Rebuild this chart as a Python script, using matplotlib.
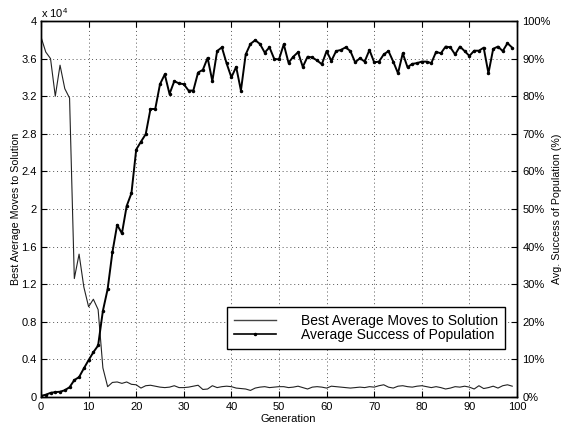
import matplotlib
matplotlib.use("Agg")
import matplotlib.pyplot as plt
from matplotlib.ticker import FuncFormatter, MultipleLocator
from matplotlib.lines import Line2D

plt.rcParams['font.family'] = ['Liberation Sans', 'DejaVu Sans']
plt.rcParams['mathtext.default'] = 'regular'

generations = list(range(100))

best_moves = [38300, 36700, 36000, 32000, 35300, 32800, 31800, 12600, 15200, 11700,
              9600, 10400, 9300, 3100, 1100, 1550, 1600, 1450, 1600, 1350,
              1300, 950, 1200, 1250, 1150, 1050, 1000, 1050, 1200, 1000,
              1000, 1050, 1150, 1250, 800, 850, 1200, 1000, 1100, 1150,
              1100, 950, 900, 850, 700, 950, 1050, 1100, 1000, 1050,
              1100, 1100, 1000, 1050, 1150, 1000, 850, 1050, 1100, 1050,
              950, 1150, 1100, 1050, 1000, 950, 1000, 1050, 1000, 1100,
              1050, 1200, 1300, 1050, 950, 1150, 1200, 1100, 1050, 1150,
              1200, 1100, 1000, 1100, 1000, 850, 950, 1100, 1050, 1150,
              1050, 850, 1200, 900, 1000, 1150, 950, 1200, 1300, 1150]

success = [0.3, 0.6, 1.1, 1.3, 1.4, 1.8, 2.6, 4.5, 5.3, 7.6,
           9.8, 11.9, 13.7, 22.9, 28.7, 38.5, 45.8, 43.5, 50.8, 54.2,
           65.8, 67.9, 69.9, 76.6, 76.6, 83.2, 85.8, 80.6, 84.0, 83.4,
           83.2, 81.5, 81.5, 86.3, 87.0, 90.2, 84.0, 92.0, 93.0, 88.7,
           85.0, 87.8, 81.5, 91.1, 93.9, 94.9, 93.9, 91.6, 93.0, 89.9,
           89.8, 93.8, 88.9, 90.5, 91.7, 87.8, 90.5, 90.3, 89.5, 88.5,
           92.0, 89.4, 92.0, 92.3, 93.0, 92.0, 89.0, 90.1, 89.2, 92.3,
           89.0, 89.2, 91.1, 92.0, 89.2, 86.1, 91.4, 87.7, 88.6, 88.8,
           89.2, 89.2, 88.8, 91.8, 91.4, 93.2, 93.0, 91.1, 93.2, 92.0,
           90.7, 92.1, 92.1, 92.9, 86.1, 92.6, 93.2, 92.0, 94.1, 92.9]

left_label = "Best Average Moves to Solution"
right_label = "Avg. Success of Population (%)"
x_label = "Generation"
series_names = ["Best Average Moves to Solution", "Average Success of Population"]

fig = plt.figure(figsize=(5.61, 4.25), dpi=100)
ax1 = fig.add_axes([41/561, 28/425, 476/561, 376/425])
ax2 = ax1.twinx()

ax1.plot(generations, best_moves, color='#222222', lw=0.8)
ax2.plot(generations, success, color='black', lw=1.4, marker='.', markersize=3)

ax1.set_xlim(0, 100)
ax1.set_ylim(0, 40000)
ax2.set_ylim(0, 100)
ax1.xaxis.set_major_locator(MultipleLocator(10))
ax1.yaxis.set_major_locator(MultipleLocator(4000))
ax2.yaxis.set_major_locator(MultipleLocator(10))

def fmt_left(v, pos):
    s = f"{v/1e4:.1f}"
    if s.endswith('.0'):
        s = s[:-2]
    return s

ax1.yaxis.set_major_formatter(FuncFormatter(fmt_left))
ax2.yaxis.set_major_formatter(FuncFormatter(lambda v, p: f"{int(round(v))}%"))

ax1.grid(True, linestyle=(0, (1, 3)), color='#555555', lw=0.7)
ax1.tick_params(direction='in', labelsize=8, length=4, top=True)
ax1.tick_params(axis='y', pad=3)
ax2.tick_params(direction='in', labelsize=8, length=4, pad=4)
for ax in (ax1, ax2):
    for s in ax.spines.values():
        s.set_linewidth(1.0)

ax1.set_xlabel(x_label, fontsize=8, labelpad=1)
ax1.xaxis.set_label_coords(0.52, -0.045)
ax1.set_ylabel(left_label, fontsize=7.7, labelpad=0)
ax2.set_ylabel(right_label, fontsize=7.7, labelpad=1)

fig.text(41/561, 1 - 13/425, r'x 10$^{4}$', fontsize=8, va='center', ha='left')

handles = [Line2D([], [], color='#444444', lw=1.0),
           Line2D([], [], color='black', lw=1.2, marker='.', markersize=3)]
leg = ax2.legend(handles, series_names, loc='lower right',
                 bbox_to_anchor=(0.975, 0.128), borderaxespad=0, fontsize=10,
                 handlelength=3.0, handletextpad=1.8, labelspacing=0.0,
                 borderpad=0.5, fancybox=False, framealpha=1, edgecolor='black')
leg.get_frame().set_linewidth(1.0)

fig.savefig("out.png", dpi=100)
